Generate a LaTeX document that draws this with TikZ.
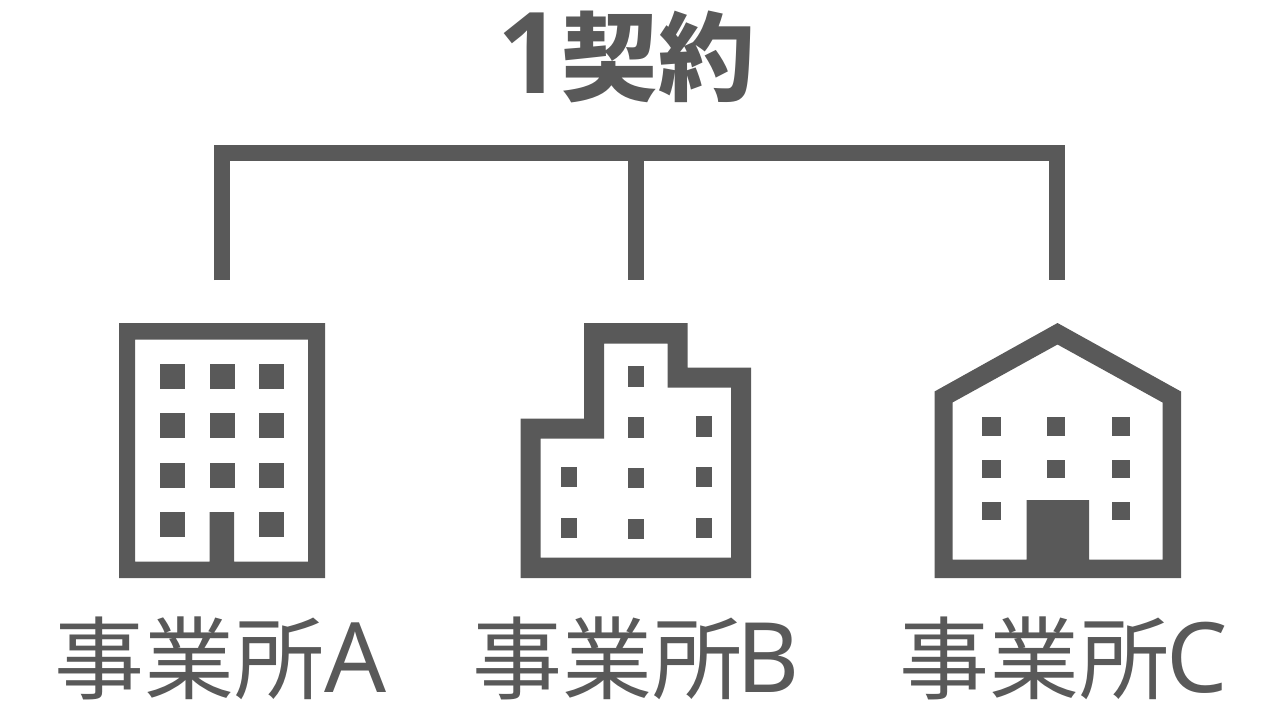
\documentclass[tikz,border=0pt]{standalone}
\usepackage{fontspec}
\setmainfont{Noto Sans CJK JP}
\newfontfamily\latinfont[Scale=1.08]{Noto Sans}
\newfontfamily\digitfont[Scale=1.17]{Open Sans}
\usetikzlibrary{calc}
\definecolor{officegray}{RGB}{89,89,89}
\tikzstyle{barline}=[draw=officegray,line width=16pt]
\tikzstyle{wallfill}=[fill=officegray,even odd rule]
\tikzstyle{officelabel}=[text=officegray,font=\fontsize{90}{90}\selectfont,inner sep=0pt,anchor=base]
\tikzstyle{titlelabel}=[text=officegray,font=\fontsize{96.5}{96.5}\selectfont\bfseries,inner sep=0pt,anchor=base]

\begin{document}
\begin{tikzpicture}[x=1pt,y=-1pt]
    \useasboundingbox (0,0) rectangle (1280,720);
    \node[titlelabel] (contract) at (626,93) {{\digitfont\bfseries 1}契約};

    % bracket
    \coordinate (legA) at (222,280);
    \coordinate (legB) at (636,280);
    \coordinate (legC) at (1056.5,280);
    \coordinate (barA) at (222,152.5);
    \coordinate (barB) at (636,152.5);
    \coordinate (barC) at (1056.5,152.5);
    \draw[barline] (legA) -- (barA) -- (barC) -- (legC);
    \draw[barline] (barB) -- (legB);

    % office A
    \fill[wallfill] (119,323) rectangle (325,578)
        (135,339.5) -- (308,339.5) -- (308,561.5) -- (234,561.5) -- (234,512)
        -- (209.5,512) -- (209.5,561.5) -- (135,561.5) -- cycle;
    \foreach \x in {160,209.5,259}{
    	\foreach \y in {364,413,462.5}{
    		\fill[officegray] (\x,\y) rectangle ++(25,25);
    	}
    }
    \fill[officegray] (160,512) rectangle ++(25,25);
    \fill[officegray] (259,512) rectangle ++(25,25);

    % office B
    \fill[wallfill] (520.5,578) -- (520.5,418.5) -- (584,418.5) -- (584,323) -- (687.5,323)
        -- (687.5,367.5) -- (751,367.5) -- (751,578) -- cycle
        (540.5,557.5) -- (540.5,438.5) -- (604,438.5) -- (604,343.5) -- (667.5,343.5)
        -- (667.5,387.5) -- (731,387.5) -- (731,557.5) -- cycle;
    \foreach \y in {366,417,467.5,518.5}{
    	\fill[officegray] (628,\y) rectangle ++(16,20.5);
    }
    \foreach \y in {416,466.5,517.5}{
    	\fill[officegray] (696,\y) rectangle ++(16,20.5);
    }
    \foreach \y in {466.5,517.5}{
    	\fill[officegray] (560.5,\y) rectangle ++(16,20.5);
    }

    % office C
    \fill[wallfill] (934.5,578) -- (934.5,391.5) -- (1057.5,323) -- (1181,391.5) -- (1181,578) -- cycle
        (952.5,559.5) -- (952.5,402.5) -- (1057.5,344.5) -- (1162.5,402.5) -- (1162.5,559.5)
        -- (1089,559.5) -- (1089,500) -- (1026.5,500) -- (1026.5,559.5) -- cycle;
    \foreach \x in {982,1046.5,1111.5}{
    	\foreach \y in {417,459.5}{
    		\fill[officegray] (\x,\y) rectangle ++(18.5,18.5);
    	}
    }
    \fill[officegray] (982,501.5) rectangle ++(18.5,18.5);
    \fill[officegray] (1111.5,501.5) rectangle ++(18.5,18.5);

    \node[officelabel] (labelA) at (221,692) {事業所{\latinfont A}};
    \node[officelabel] (labelB) at (636.5,692) {事業所\kern-6pt{\latinfont B}};
    \node[officelabel] (labelC) at (1063.5,692) {事業所\kern-3pt{\latinfont C}};
\end{tikzpicture}
\end{document}
